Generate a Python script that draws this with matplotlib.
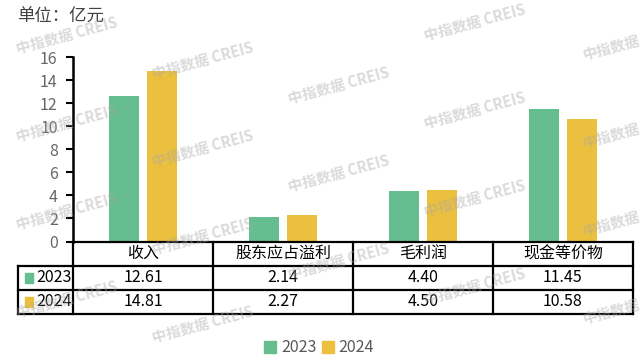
import matplotlib
matplotlib.use("Agg")
import matplotlib.pyplot as plt
from matplotlib.patches import Rectangle
import numpy as np

plt.rcParams['font.family'] = ['Noto Sans CJK SC', 'DejaVu Sans']

categories = ["收入", "股东应占溢利", "毛利润", "现金等价物"]
series_names = ["2023", "2024"]
values_2023 = [12.61, 2.14, 4.40, 11.45]
values_2024 = [14.81, 2.27, 4.50, 10.58]
y_ticks = [0, 2, 4, 6, 8, 10, 12, 14, 16]
unit_label = "单位：亿元"
watermark = "中指数据 CREIS"
watermark_short = "中指数据"

GREEN = "#66BD8F"
YELLOW = "#EBC03F"
W, H = 640, 361

fig = plt.figure(figsize=(6.4, 3.61), dpi=100)

def fx(px):
    return px / W

def fy(py):
    return 1 - py / H

# main axes
ax_left, ax_right, ax_top, ax_bot = 73, 633, 57, 241.5
ax = fig.add_axes([fx(ax_left), fy(ax_bot), fx(ax_right - ax_left), (ax_bot - ax_top) / H])
x = np.arange(len(categories))
bw = 0.21
off = 0.137
ax.bar(x - off, values_2023, width=bw, color=GREEN, zorder=2)
ax.bar(x + off, values_2024, width=bw, color=YELLOW, zorder=2)
ax.set_xlim(-0.5, len(categories) - 0.5)
ax.set_ylim(0, 16)
ax.set_yticks(y_ticks)
ax.set_yticklabels([str(t) for t in y_ticks], fontsize=11.5, color="#666666")
ax.tick_params(axis='y', length=5, width=1.5, color="black", pad=6)
ax.set_xticks([])
for s in ["top", "right", "bottom"]:
    ax.spines[s].set_visible(False)
ax.spines["left"].set_linewidth(1.8)
ax.spines["left"].set_color("black")

# table axes
t_left, t_right, t_top, t_bot = 18, 633, 241.5, 314
tax = fig.add_axes([fx(t_left), fy(t_bot), fx(t_right - t_left), (t_bot - t_top) / H])
cat_w = (ax_right - ax_left) / len(categories)
xl = -0.5 - (ax_left - t_left) / cat_w
tax.set_xlim(xl, len(categories) - 0.5)
tax.set_ylim(3, 0)
tax.axis("off")
lw = 1.6
kw = dict(color="black", lw=lw, clip_on=False, solid_capstyle="projecting")
tax.plot([-0.5, len(categories) - 0.5], [0, 0], **kw)
for yy in [1, 2, 3]:
    tax.plot([xl, len(categories) - 0.5], [yy, yy], **kw)
for xx in np.arange(-0.5, len(categories), 1.0):
    tax.plot([xx, xx], [0, 3], **kw)
tax.plot([xl, xl], [1, 3], **kw)

fs_tab = 11.5
for i, c in enumerate(categories):
    tax.text(i, 0.5, c, ha="center", va="center", fontsize=fs_tab, color="black")
    tax.text(i, 1.5, f"{values_2023[i]:.2f}", ha="center", va="center", fontsize=fs_tab, color="black")
    tax.text(i, 2.5, f"{values_2024[i]:.2f}", ha="center", va="center", fontsize=fs_tab, color="black")

px_unit = 1.0 / cat_w
for r, (name, col) in enumerate(zip(series_names, [GREEN, YELLOW])):
    yc = 1.5 + r
    sq_x = xl + 7 * px_unit
    tax.add_patch(Rectangle((sq_x, yc - 0.2), 8 * px_unit, 0.4, color=col, clip_on=False))
    tax.text(sq_x + 11 * px_unit, yc, name, ha="left", va="center", fontsize=fs_tab, color="black")

# legend
fig.legend(handles=[Rectangle((0, 0), 1, 1, color=GREEN), Rectangle((0, 0), 1, 1, color=YELLOW)],
           labels=series_names, loc="center", bbox_to_anchor=(fx(319), fy(348)), ncol=2,
           frameon=False, fontsize=11.5, handlelength=0.75, handleheight=0.75, handletextpad=0.3,
           columnspacing=0.35, labelcolor="#595959")

# unit label
fig.text(fx(17), fy(17), unit_label, ha="left", va="center", fontsize=12.5, color="#404040")

# watermarks
for i in range(5):
    for j in range(-1, 5):
        cx = 67 + 136 * i
        cy = 35 + 25 * i + 88 * j
        txt = watermark if i < 4 else watermark_short
        if 16 < cy < H - 18:
            fig.text(fx(cx), fy(cy), txt, ha="center", va="center", rotation=15,
                     fontsize=10.5, fontweight="bold", color="#a8a8a8", alpha=0.42, zorder=10)

fig.savefig("out.png", dpi=100)
